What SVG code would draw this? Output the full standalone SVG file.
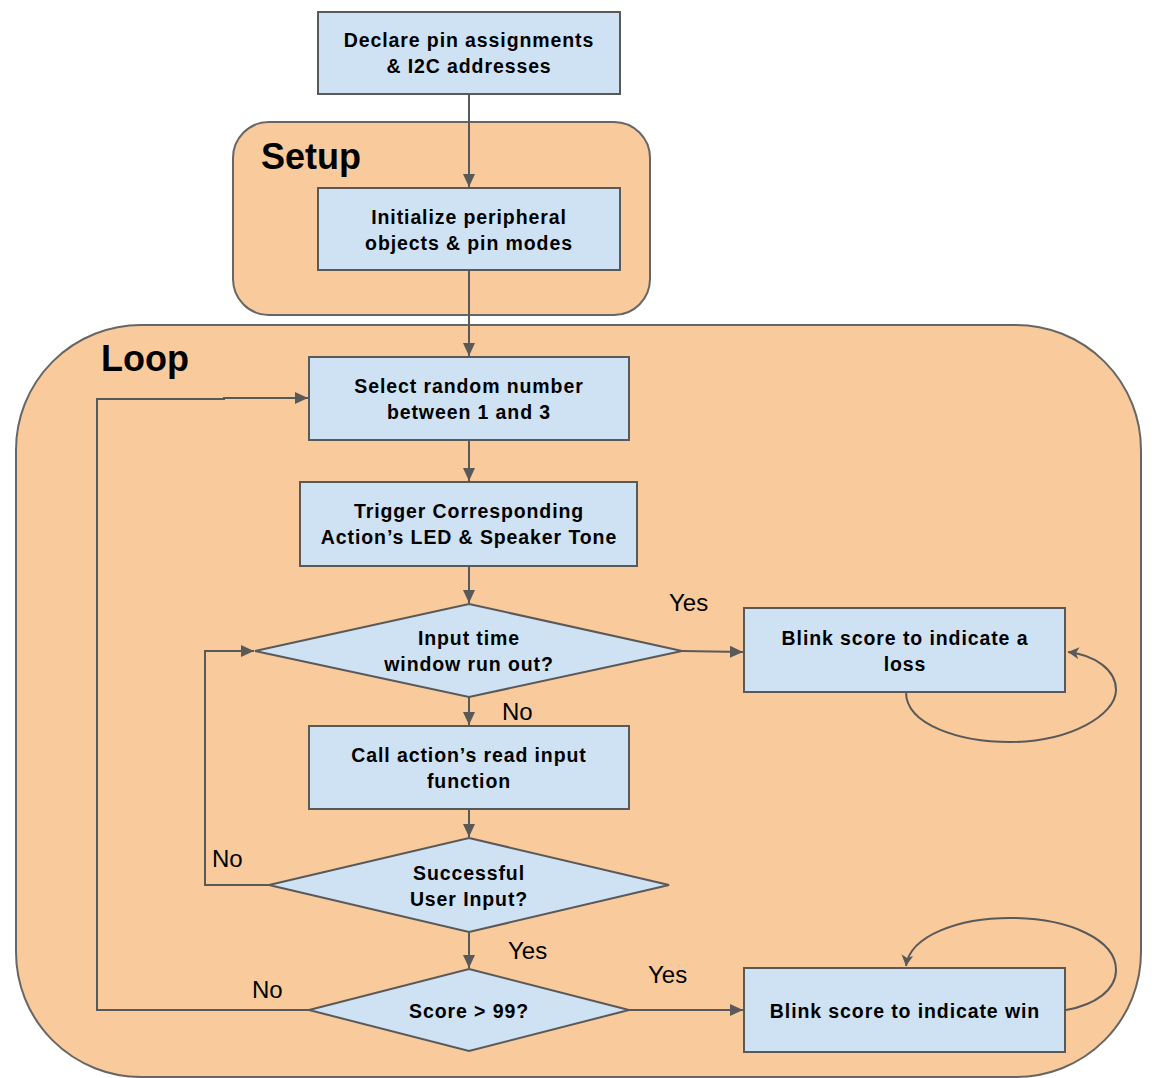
<svg xmlns="http://www.w3.org/2000/svg" width="1160" height="1078" viewBox="0 0 1160 1078">
<defs>
<marker id="arr" markerUnits="userSpaceOnUse" markerWidth="16" markerHeight="14" refX="13" refY="6" orient="auto">
<path d="M0,0 L13,6 L0,12 z" fill="#595959"/>
</marker>
<marker id="open" markerUnits="userSpaceOnUse" markerWidth="14" markerHeight="14" refX="11" refY="6" orient="auto">
<path d="M0,0 L11,6 L0,12 L3,6 z" fill="#595959"/>
</marker>
</defs>
<style>
.grp{fill:#f9cb9c;stroke:#666666;stroke-width:2}
.box{fill:#cfe2f3;stroke:#595959;stroke-width:2}
.t{font-family:"Liberation Sans",Arial,sans-serif;font-weight:bold;font-size:19.5px;letter-spacing:0.9px;fill:#000;text-anchor:middle}
.h{font-family:"Liberation Sans",Arial,sans-serif;font-weight:bold;font-size:36px;fill:#000}
.lbl{font-family:"Liberation Sans",Arial,sans-serif;font-size:24px;fill:#000}
.c{fill:none;stroke:#595959;stroke-width:2}
</style>
<rect width="1160" height="1078" fill="#ffffff"/>
<g id="setup">
<rect class="grp" x="233" y="122" width="417" height="193" rx="36" ry="36"/>
<text class="h" x="261" y="169">Setup</text>
</g>
<g id="loop">
<rect class="grp" x="16" y="325" width="1125" height="752" rx="125" ry="125"/>
<text class="h" x="101" y="371">Loop</text>
</g>
<g id="declare">
<rect class="box" x="318" y="12" width="302" height="82"/>
<text class="t" x="469" y="47">Declare pin assignments</text>
<text class="t" x="469" y="73">&amp; I2C addresses</text>
</g>
<g id="init">
<rect class="box" x="318" y="188" width="302" height="82"/>
<text class="t" x="469" y="224">Initialize peripheral</text>
<text class="t" x="469" y="250">objects &amp; pin modes</text>
</g>
<g id="select">
<rect class="box" x="309" y="357" width="320" height="83"/>
<text class="t" x="469" y="393">Select random number</text>
<text class="t" x="469" y="419">between 1 and 3</text>
</g>
<g id="trigger">
<rect class="box" x="300" y="482" width="337" height="84"/>
<text class="t" x="469" y="518">Trigger Corresponding</text>
<text class="t" x="469" y="544">Action’s LED &amp; Speaker Tone</text>
</g>
<g id="timeout">
<polygon class="box" points="469,604 682,651 469,697 255,651"/>
<text class="t" x="469" y="645">Input time</text>
<text class="t" x="469" y="671">window run out?</text>
</g>
<g id="call">
<rect class="box" x="309" y="726" width="320" height="83"/>
<text class="t" x="469" y="762">Call action’s read input</text>
<text class="t" x="469" y="788">function</text>
</g>
<g id="success">
<polygon class="box" points="469,838 669,885 469,932 269,885"/>
<text class="t" x="469" y="880">Successful</text>
<text class="t" x="469" y="906">User Input?</text>
</g>
<g id="score">
<polygon class="box" points="469,969 629,1010 469,1051 309,1010"/>
<text class="t" x="469" y="1018">Score &gt; 99?</text>
</g>
<g id="loss">
<rect class="box" x="744" y="608" width="321" height="84"/>
<text class="t" x="905" y="645">Blink score to indicate a</text>
<text class="t" x="905" y="671">loss</text>
</g>
<g id="win">
<rect class="box" x="744" y="968" width="321" height="84"/>
<text class="t" x="905" y="1018">Blink score to indicate win</text>
</g>
<g id="connectors">
<line class="c" x1="469" y1="94" x2="469" y2="187" marker-end="url(#arr)"/>
<line class="c" x1="469" y1="270" x2="469" y2="356" marker-end="url(#arr)"/>
<line class="c" x1="469" y1="440" x2="469" y2="481" marker-end="url(#arr)"/>
<line class="c" x1="469" y1="566" x2="469" y2="603" marker-end="url(#arr)"/>
<line class="c" x1="469" y1="697" x2="469" y2="725" marker-end="url(#arr)"/>
<line class="c" x1="469" y1="809" x2="469" y2="837" marker-end="url(#arr)"/>
<line class="c" x1="469" y1="932" x2="469" y2="968" marker-end="url(#arr)"/>
<line class="c" x1="682" y1="651" x2="743" y2="652" marker-end="url(#arr)"/>
<line class="c" x1="629" y1="1010" x2="743" y2="1010" marker-end="url(#arr)"/>
<polyline class="c" points="269,885 205,885 205,651 254,651" marker-end="url(#arr)"/>
<polyline class="c" points="309,1010 97,1010 97,399 224,399 224,398 308,398" marker-end="url(#arr)"/>
<path class="c" d="M906,692 C906,725 960,742 1010,742 C1070,742 1116,715 1116,690 C1116,670 1095,655 1068,652" marker-end="url(#open)"/>
<path class="c" d="M1066,1010 C1095,1005 1116,990 1116,970 C1116,940 1070,918 1010,918 C960,918 910,935 906,966" marker-end="url(#open)"/>
<text class="lbl" x="669" y="611">Yes</text>
<text class="lbl" x="502" y="720">No</text>
<text class="lbl" x="212" y="867">No</text>
<text class="lbl" x="508" y="959">Yes</text>
<text class="lbl" x="648" y="983">Yes</text>
<text class="lbl" x="252" y="998">No</text>
</g>
</svg>
